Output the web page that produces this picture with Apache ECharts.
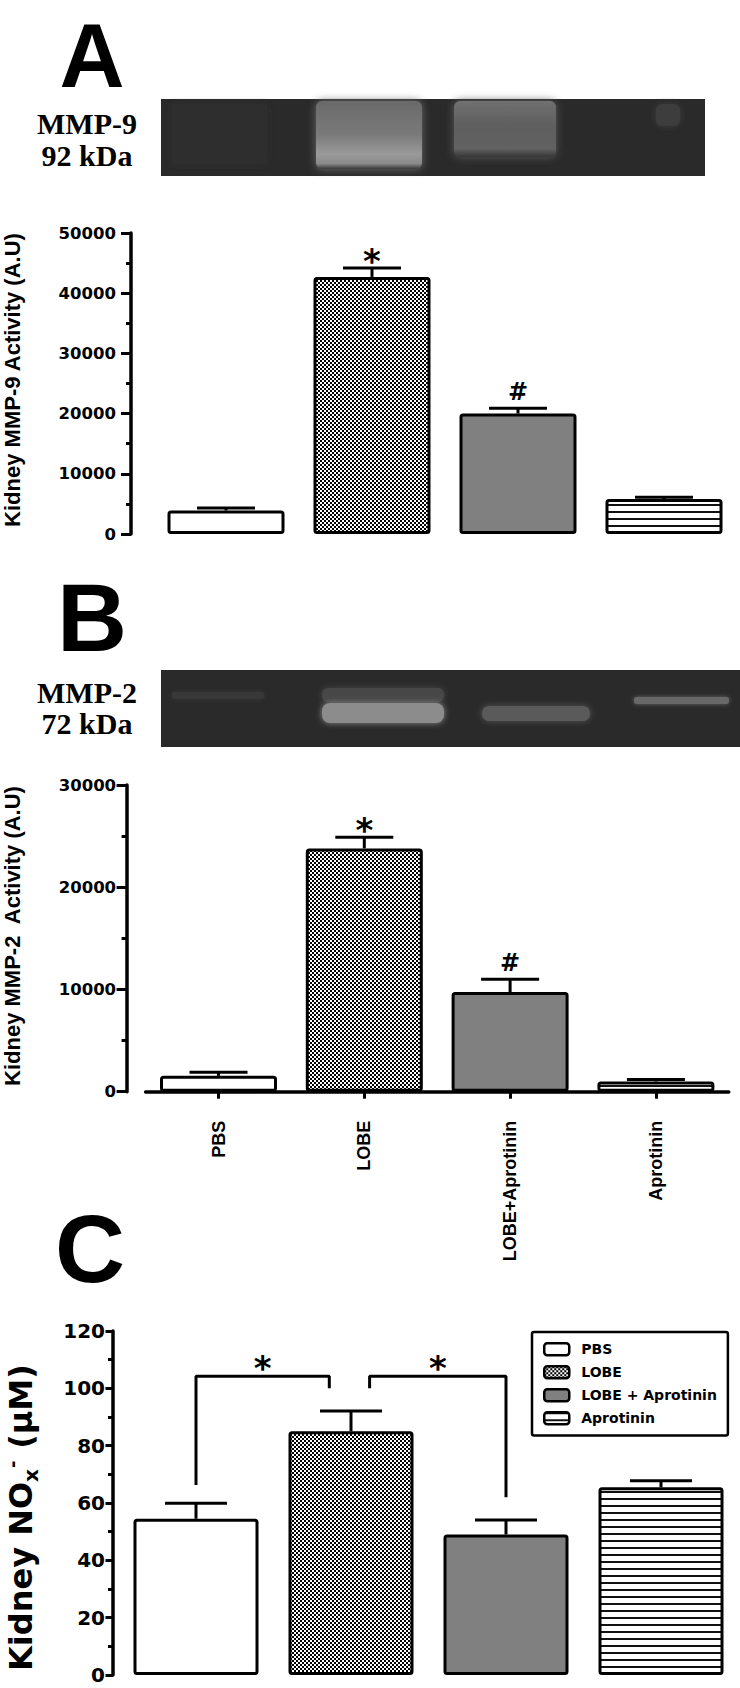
<!DOCTYPE html>
<html><head><meta charset="utf-8">
<script src="https://cdn.jsdelivr.net/npm/echarts@6/dist/echarts.min.js"></script>
<style>html,body{margin:0;padding:0;background:#fff}#c{width:740px;height:1688px}</style>
</head><body><div id="c"></div>
<script>
// ---------- data ----------
const categories = ['PBS', 'LOBE', 'LOBE+Aprotinin', 'Aprotinin'];
const legendNames = ['PBS', 'LOBE', 'LOBE + Aprotinin', 'Aprotinin'];
const mmp9Mean = [3900, 42700, 20000, 5800];
const mmp9Err = [400, 1500, 900, 300];
const mmp9Marks = ['', '*', '#', ''];
const mmp2Mean = [1550, 23800, 9750, 1000];
const mmp2Err = [350, 1100, 1250, 200];
const mmp2Marks = ['', '*', '#', ''];
const noxMean = [54.5, 85, 49, 65.5];
const noxErr = [5.4, 7.1, 5.1, 2.3];
const bracketLeft = [[0, 66.3], [0, 104.2], [0.86, 104.2], [0.86, 100]];
const bracketRight = [[1.12, 100], [1.12, 104.2], [2, 104.2], [2, 62]];
const bracketStars = [[0.43, 110], [1.56, 110]];
const mmp9Scale = [0, 50000, 10000];
const mmp2Scale = [0, 30000, 10000];
const noxScale = [0, 120, 20];

// ---------- patterns ----------
function checker() {
  const c = document.createElement('canvas'); c.width = 4; c.height = 4;
  const g = c.getContext('2d');
  g.fillStyle = '#fff'; g.fillRect(0, 0, 4, 4);
  g.fillStyle = '#000'; g.fillRect(0, 0, 2, 2); g.fillRect(2, 2, 2, 2);
  return c;
}
function stripes() {
  const c = document.createElement('canvas'); c.width = 4; c.height = 7;
  const g = c.getContext('2d');
  g.fillStyle = '#fff'; g.fillRect(0, 0, 4, 7);
  g.fillStyle = '#111'; g.fillRect(0, 0, 4, 2);
  return c;
}
const FILLS = ['#ffffff', { image: checker(), repeat: 'repeat' }, '#808080', { image: stripes(), repeat: 'repeat' }];
const MARKSTYLE = {
  '*': { font: 'bold 34px "DejaVu Sans"', dy: -7 },
  '#': { font: 'bold 24px "DejaVu Sans"', dy: -16.5 }
};

function barSeries(prefix, means, ai, bw) {
  return categories.map((c, i) => ({
    type: 'bar', name: prefix + legendNames[i], xAxisIndex: ai, yAxisIndex: ai,
    barWidth: bw, barGap: '-100%',
    data: means.map((v, j) => (j === i ? v : '-')),
    itemStyle: { color: FILLS[i], borderColor: '#000', borderWidth: 3, borderRadius: 2 },
    emphasis: { disabled: true }, silent: true, z: 2
  }));
}
function errSeries(means, errs, marks, ai, capW) {
  return {
    type: 'custom', xAxisIndex: ai, yAxisIndex: ai, z: 5, silent: true,
    encode: { x: 0, y: 1 },
    data: means.map((m, i) => [i, m, errs[i]]),
    renderItem(params, api) {
      const i = api.value(0), m = api.value(1), e = api.value(2);
      const p0 = api.coord([i, m]), p1 = api.coord([i, m + e]);
      const h = capW / 2;
      const ch = [
        { type: 'line', shape: { x1: p0[0], y1: p0[1], x2: p1[0], y2: p1[1] }, style: { stroke: '#000', lineWidth: 3 } },
        { type: 'line', shape: { x1: p1[0] - h, y1: p1[1], x2: p1[0] + h, y2: p1[1] }, style: { stroke: '#000', lineWidth: 3 } }
      ];
      const mk = marks[params.dataIndex];
      if (mk) {
        const s = MARKSTYLE[mk];
        ch.push({ type: 'text', x: p1[0], y: p1[1] + s.dy,
          style: { text: mk, font: s.font, fill: '#000', align: 'center', verticalAlign: 'middle' } });
      }
      return { type: 'group', children: ch };
    }
  };
}
function starSeries(points, ai, yi) {
  return {
    type: 'custom', xAxisIndex: ai, yAxisIndex: yi, z: 5, silent: true,
    encode: { x: 0, y: 1 }, data: points,
    renderItem(params, api) {
      const p = api.coord([api.value(0), api.value(1)]);
      return { type: 'text', x: p[0], y: p[1] + 8,
        style: { text: '*', font: MARKSTYLE['*'].font, fill: '#000', align: 'center', verticalAlign: 'middle' } };
    }
  };
}
function yAxis(gi, scale, offset, fs, margin, tickLen) {
  return {
    type: 'value', gridIndex: gi, min: scale[0], max: scale[1], interval: scale[2], offset,
    axisLine: { show: true, onZero: false, lineStyle: { color: '#000', width: 3.5 } },
    axisTick: { show: true, length: tickLen, lineStyle: { color: '#000', width: 3 } },
    minorTick: { show: true, splitNumber: 2, length: 5, lineStyle: { color: '#000', width: 3 } },
    splitLine: { show: false }, minorSplitLine: { show: false },
    axisLabel: { color: '#000', fontFamily: 'DejaVu Sans', fontWeight: 'bold', fontSize: fs, margin,
      formatter: v => String(v) }
  };
}
function rect(x, y, w, h, fill, blur, r, shadow) {
  return { type: 'rect', silent: true, shape: { x, y, width: w, height: h, r: r || 0 },
    style: { fill, shadowBlur: blur || 0, shadowColor: blur ? (shadow || fill) : 'transparent' } };
}
function vgrad(stops) {
  return { type: 'linear', x: 0, y: 0, x2: 0, y2: 1, colorStops: stops.map(s => ({ offset: s[0], color: s[1] })) };
}
function label(text, x, y, font, rot, align) {
  return { type: 'text', x, y, rotation: rot || 0, silent: true,
    style: { text, font, fill: '#000', align: align || 'center', verticalAlign: 'middle' } };
}

const chart = echarts.init(document.getElementById('c'), null, { renderer: 'svg', width: 740, height: 1688 });
const serif = 'bold 30px "Liberation Serif"';
const dj = (s) => 'bold ' + s + 'px "DejaVu Sans"';
const R = Math.PI / 2;
const option = {
  animation: false,
  backgroundColor: '#fff',
  grid: [
    { left: 153, top: 233, width: 584, height: 301, outerBoundsMode: 'none' },
    { left: 145.6, top: 785, width: 583.2, height: 306.7, outerBoundsMode: 'none' },
    { left: 118.5, top: 1331, width: 620, height: 344, outerBoundsMode: 'none' }
  ],
  xAxis: [
    { type: 'category', gridIndex: 0, data: categories, show: false },
    { type: 'category', gridIndex: 1, data: categories, offset: 16,
      axisLine: { show: true, lineStyle: { color: '#000', width: 3.5 } },
      axisTick: { show: true, alignWithLabel: true, length: 7, lineStyle: { color: '#000', width: 3 } },
      axisLabel: { rotate: 90, interval: 0, margin: 13, color: '#000', fontFamily: 'Liberation Sans', fontWeight: 'bold', fontSize: 18 } },
    { type: 'category', gridIndex: 2, data: categories, show: false },
    { type: 'value', gridIndex: 2, min: -0.5, max: 3.5, show: false }
  ],
  yAxis: [
    yAxis(0, mmp9Scale, 22, 16.5, 15, 10),
    yAxis(1, mmp2Scale, 19, 16.5, 10.5, 10),
    yAxis(2, noxScale, 5.5, 20, 8, 7.5)
  ],
  legend: {
    show: true, orient: 'vertical', left: 532, top: 1332, padding: [10, 11, 10, 11],
    itemWidth: 25, itemHeight: 12, itemGap: 8.5, icon: 'roundRect', selectedMode: false,
    borderColor: '#000', borderWidth: 2.5, borderRadius: 2,
    itemStyle: { borderColor: '#000', borderWidth: 2.5 },
    data: legendNames,
    textStyle: { fontFamily: 'DejaVu Sans', fontWeight: 'bold', fontSize: 14, color: '#000', padding: [0, 0, 0, 7] }
  },
  series: [
    ...barSeries('A:', mmp9Mean, 0, 117), errSeries(mmp9Mean, mmp9Err, mmp9Marks, 0, 58),
    ...barSeries('B:', mmp2Mean, 1, 117), errSeries(mmp2Mean, mmp2Err, mmp2Marks, 1, 58),
    ...barSeries('', noxMean, 2, 125), errSeries(noxMean, noxErr, [], 2, 62),
    { type: 'line', xAxisIndex: 3, yAxisIndex: 2, data: bracketLeft, symbol: 'none', silent: true,
      lineStyle: { color: '#000', width: 3 }, z: 4 },
    { type: 'line', xAxisIndex: 3, yAxisIndex: 2, data: bracketRight, symbol: 'none', silent: true,
      lineStyle: { color: '#000', width: 3 }, z: 4 },
    starSeries(bracketStars, 3, 2)
  ],
  graphic: [
    // panel letters
    label('A', 92, 56, 'bold 90px "Liberation Sans"'),
    label('B', 92, 617, 'bold 97px "Liberation Sans"'),
    label('C', 90, 1248, 'bold 97px "Liberation Sans"'),
    // gel A (zymogram image)
    rect(161, 99, 544, 77, '#2a2a2a'),
    rect(172, 104, 95, 60, '#2e2e2e', 6),
    rect(316, 101, 106, 68, vgrad([[0, '#6a6a6a'], [0.5, '#7a7a7a'], [0.78, '#9a9a9a'], [0.92, '#8a8a8a'], [1, '#3a3a3a']]), 8, 6, '#6a6a6a'),
    rect(454, 101, 102, 56, vgrad([[0, '#707070'], [0.45, '#5e5e5e'], [0.85, '#626262'], [1, '#353535']]), 8, 6, '#5a5a5a'),
    rect(656, 104, 24, 22, '#3c3c3c', 6, 6),
    // gel B
    rect(161, 670, 579, 77, '#2a2a2a'),
    rect(172, 692, 92, 7, '#383838', 5, 3),
    rect(322, 688, 122, 14, '#474747', 6, 6),
    rect(322, 703, 122, 20, '#8c8c8c', 6, 8),
    rect(482, 706, 108, 15, '#5a5a5a', 6, 7),
    rect(634, 697, 95, 7, '#676767', 4, 3),
    // gel labels
    label('MMP-9', 87, 123, serif),
    label('92 kDa', 87, 155, serif),
    label('MMP-2', 87, 692, serif),
    label('72 kDa', 87, 723, serif),
    // axis titles
    label('Kidney MMP-9 Activity (A.U)', 12, 380, 'bold 22px "Liberation Sans"', R),
    label('Kidney MMP-2  Activity (A.U)', 12, 936, 'bold 22px "Liberation Sans"', R),
    label('Kidney NO', 20.5, 1671, dj(32), R, 'left'),
    label('x', 30.5, 1482, dj(20), R, 'left'),
    label('-', 12, 1468, dj(18), R, 'left'),
    label(' (μM)', 20.5, 1460, dj(32), R, 'left')
  ]
};
chart.setOption(option);
</script></body></html>
